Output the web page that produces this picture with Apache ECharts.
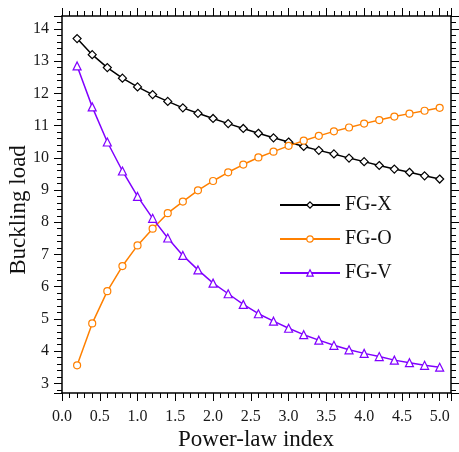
<!DOCTYPE html>
<html><head><meta charset="utf-8">
<script src="https://cdn.jsdelivr.net/npm/echarts@6/dist/echarts.min.js"></script>
<style>html,body{margin:0;padding:0;background:#fff}#c{width:459px;height:452px}</style>
</head><body><div id="c"></div>
<script>
const xValues = [0.2,0.4,0.6,0.8,1.0,1.2,1.4,1.6,1.8,2.0,2.2,2.4,2.6,2.8,3.0,3.2,3.4,3.6,3.8,4.0,4.2,4.4,4.6,4.8,5.0];
const fgX = [13.70,13.20,12.80,12.47,12.20,11.96,11.75,11.55,11.38,11.22,11.06,10.91,10.76,10.62,10.49,10.35,10.23,10.12,9.99,9.88,9.76,9.65,9.55,9.44,9.34];
const fgO = [3.56,4.86,5.86,6.64,7.28,7.80,8.28,8.64,8.99,9.28,9.55,9.79,10.01,10.19,10.37,10.53,10.68,10.82,10.94,11.06,11.17,11.28,11.37,11.46,11.55];
const fgV = [12.85,11.58,10.49,9.59,8.80,8.12,7.51,6.97,6.52,6.11,5.78,5.45,5.16,4.93,4.71,4.51,4.34,4.18,4.04,3.93,3.83,3.72,3.64,3.56,3.50];
const seriesNames = ['FG-X','FG-O','FG-V'];
const xTitle = 'Power-law index';
const yTitle = 'Buckling load';

const FONT = '"Liberation Serif","DejaVu Serif",serif';
const colors = ['#000000','#ff8000','#8000ff'];
const symbols = ['diamond','circle','triangle'];
const symSizes = [8,7,8];
const dataSets = [fgX, fgO, fgV];

function pairs(ys){ return xValues.map((x,i)=>[x, ys[i]]); }

const chart = echarts.init(document.getElementById('c'), null, {renderer:'canvas'});
const axisLine = {show:true, onZero:false, lineStyle:{color:'#000', width:1.5}};
const tick = {show:true, inside:false, length:8, lineStyle:{color:'#000', width:1}};
const minor = {show:true, splitNumber:5, length:5, lineStyle:{color:'#000', width:1}};
const labelStyle = {fontFamily:FONT, fontSize:16, color:'#1a1a1a'};

function xAxisDef(pos, showLabel){
  return {type:'value', position:pos, min:0, max:5.15, interval:0.5,
    axisLine, axisTick:tick, minorTick:minor, splitLine:{show:false}, minorSplitLine:{show:false},
    axisLabel:Object.assign({show:showLabel, margin:16, showMaxLabel:false,
      formatter:v=>Math.abs(v*2-Math.round(v*2))<1e-6 ? v.toFixed(1) : ''}, labelStyle)};
}
function yAxisDef(pos, showLabel){
  return {type:'value', position:pos, min:2.7, max:14.4, minInterval:1, maxInterval:1, splitNumber:11,
    axisLine, axisTick:tick, minorTick:minor, splitLine:{show:false}, minorSplitLine:{show:false},
    axisLabel:Object.assign({show:showLabel, margin:13, showMinLabel:false, showMaxLabel:false,
      formatter:v=>Math.abs(v-Math.round(v))<1e-6 ? String(Math.round(v)) : ''}, labelStyle)};
}

chart.setOption({
  animation:false,
  backgroundColor:'#fff',
  grid:{left:62, right:8, top:16, bottom:59, containLabel:false},
  xAxis:[xAxisDef('bottom', true), xAxisDef('top', false)],
  yAxis:[yAxisDef('left', true), yAxisDef('right', false)],
  legend:{orient:'vertical', left:279, top:195, padding:0, itemWidth:60, itemHeight:8, itemGap:14,
    itemStyle:{color:'#fff', borderColor:'inherit', borderWidth:1.2},
    textStyle:{fontFamily:FONT, fontSize:20, color:'#111', lineHeight:20},
    data:seriesNames},
  graphic:[
    {type:'text', x:256, y:440, style:{text:xTitle, font:'23px '+FONT, fill:'#111', align:'center', verticalAlign:'middle', textAlign:'center', textVerticalAlign:'middle'}},
    {type:'text', x:19, y:210, rotation:Math.PI/2, style:{text:yTitle, font:'23px '+FONT, fill:'#111', align:'center', verticalAlign:'middle', textAlign:'center', textVerticalAlign:'middle'}}
  ],
  series: seriesNames.map((n,i)=>({
    name:n, type:'line', data:pairs(dataSets[i]), xAxisIndex:0, yAxisIndex:0,
    symbol:symbols[i], symbolSize:symSizes[i], showAllSymbol:true,
    lineStyle:{color:colors[i], width:1.5},
    itemStyle:{color:'#fff', borderColor:colors[i], borderWidth:1.2},
    emphasis:{disabled:true}
  }))
});
</script></body></html>
